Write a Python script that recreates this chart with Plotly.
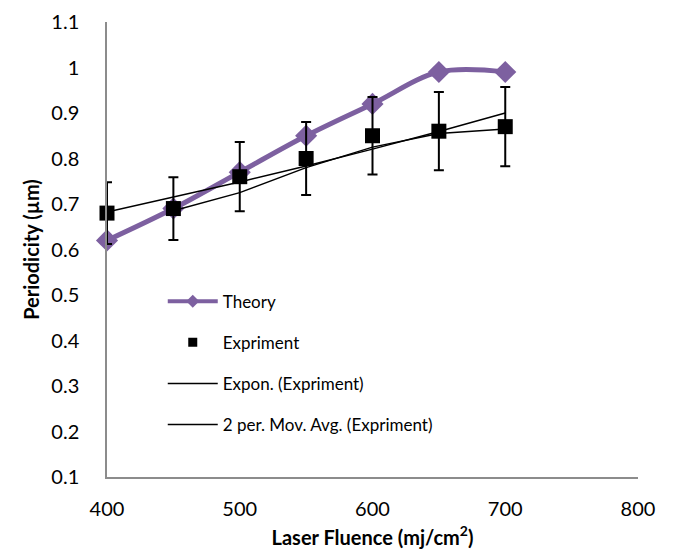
import numpy as np
import plotly.graph_objects as go

fluence = [400, 450, 500, 550, 600, 650, 700]
theory = [0.62, 0.69, 0.77, 0.85, 0.92, 0.99, 0.99]
expriment = [0.68, 0.69, 0.76, 0.80, 0.85, 0.86, 0.87]
err_percent = 10
x_ticks = [400, 500, 600, 700, 800]
y_ticks = [0.1, 0.2, 0.3, 0.4, 0.5, 0.6, 0.7, 0.8, 0.9, 1.0, 1.1]
y_tick_text = ["0.1", "0.2", "0.3", "0.4", "0.5", "0.6", "0.7", "0.8", "0.9", "1", "1.1"]

# Exponential trendline (least squares on log y), as Excel does
xa = np.array(fluence, dtype=float)
b, ln_a = np.polyfit(xa, np.log(expriment), 1)
exp_fit = np.exp(ln_a + b * xa)

# 2 period moving average
mov_x = fluence[1:]
mov_y = [(expriment[i - 1] + expriment[i]) / 2 for i in range(1, len(expriment))]

FONT = "Lato, 'Open Sans', sans-serif"
purple = "#7D60A0"

fig = go.Figure()
fig.add_trace(go.Scatter(
    x=fluence, y=theory, name="Theory", mode="lines+markers",
    line=dict(color=purple, width=5, shape="spline", smoothing=1.0),
    marker=dict(symbol="diamond", size=17, color=purple),
    cliponaxis=False, showlegend=False))
fig.add_trace(go.Scatter(
    x=fluence, y=expriment, name="Expriment", mode="markers",
    marker=dict(symbol="square", size=15, color="black"),
    error_y=dict(type="percent", value=err_percent, color="black", thickness=2, width=5),
    cliponaxis=False, showlegend=False))
fig.add_trace(go.Scatter(
    x=fluence, y=exp_fit, name="Expon. (Expriment)", mode="lines",
    line=dict(color="black", width=1.5), showlegend=False))
fig.add_trace(go.Scatter(
    x=mov_x, y=mov_y, name="2 per. Mov. Avg. (Expriment)", mode="lines",
    line=dict(color="black", width=1.5), showlegend=False))

# legend entries (smaller symbols like the reference legend)
fig.add_trace(go.Scatter(x=[None], y=[None], name="Theory", mode="lines+markers",
                         line=dict(color=purple, width=4),
                         marker=dict(symbol="diamond", size=10, color=purple), legendgroup="a"))
fig.add_trace(go.Scatter(x=[None], y=[None], name="Expriment", mode="markers",
                         marker=dict(symbol="square", size=9, color="black"), legendgroup="b"))
fig.add_trace(go.Scatter(x=[None], y=[None], name="Expon. (Expriment)", mode="lines",
                         line=dict(color="black", width=1.5), legendgroup="c"))
fig.add_trace(go.Scatter(x=[None], y=[None], name="2 per. Mov. Avg. (Expriment)", mode="lines",
                         line=dict(color="black", width=1.5), legendgroup="d"))

fig.update_layout(
    width=680, height=552,
    margin=dict(l=99, r=50, t=14, b=83),
    paper_bgcolor="white", plot_bgcolor="white",
    font=dict(family=FONT, color="black", size=18),
    showlegend=True,
    legend=dict(x=0.105, y=0.425, xanchor="left", yanchor="top",
                font=dict(size=17, family=FONT), tracegroupgap=16,
                bgcolor="rgba(0,0,0,0)", itemwidth=50),
    xaxis=dict(range=[400, 800], tickvals=x_ticks, showgrid=False, zeroline=False,
               showline=True, linecolor="#8c8c8c", linewidth=1.5, automargin=False,
               ticks="outside", ticklen=13, tickcolor="rgba(0,0,0,0)",
               tickfont=dict(size=20), ticklabeloverflow="allow",
               title=dict(text="<b>Laser Fluence (mj/cm<sup>2</sup>)</b>", font=dict(size=20), standoff=12)),
    yaxis=dict(range=[0.1, 1.1], tickvals=y_ticks, ticktext=y_tick_text, showgrid=False,
               zeroline=False, showline=True, linecolor="#8c8c8c", linewidth=1.5, automargin=False,
               ticks="outside", ticklen=22, tickcolor="rgba(0,0,0,0)",
               tickfont=dict(size=20), ticklabeloverflow="allow",
               title=dict(text="<b>Periodicity (µm)</b>", font=dict(size=20), standoff=6)),
)

fig.write_html("out.html")
